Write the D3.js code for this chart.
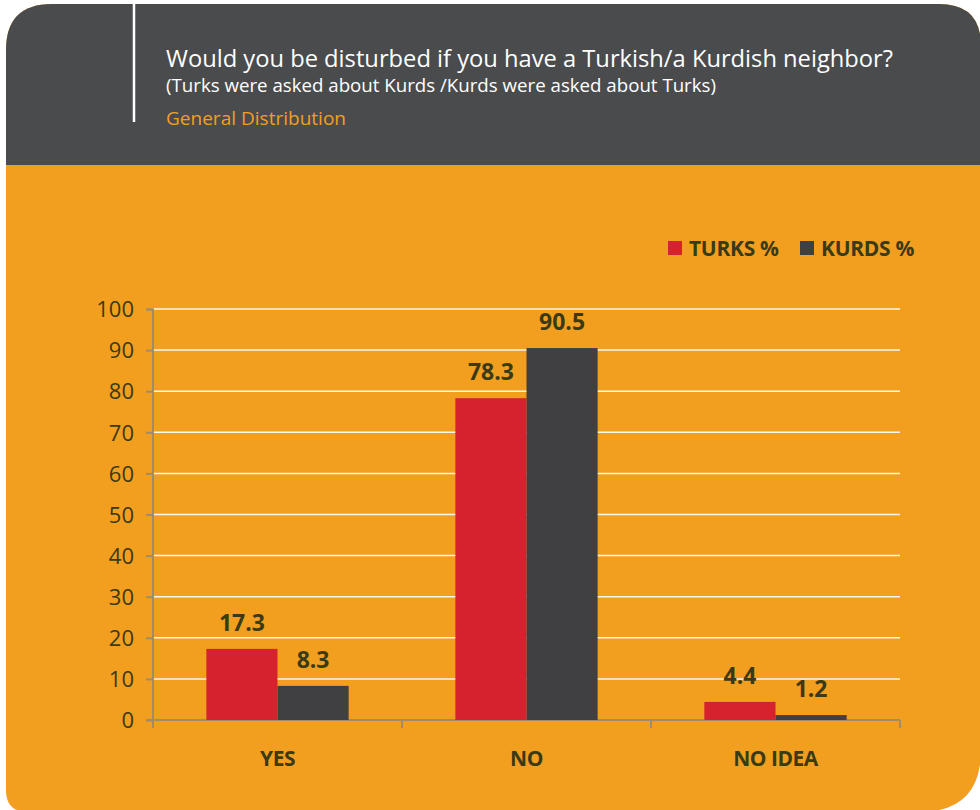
<!DOCTYPE html>
<html><head><meta charset="utf-8">
<script src="https://cdn.jsdelivr.net/npm/d3@7"></script>
<style>body{margin:0;background:#fff}svg{display:block}</style>
</head><body>
<script>
const categories = ["YES", "NO", "NO IDEA"];
const seriesNames = ["TURKS %", "KURDS %"];
const turks = [17.3, 78.3, 4.4];
const kurds = [8.3, 90.5, 1.2];
const yTicks = [0,10,20,30,40,50,60,70,80,90,100];

const W = 980, H = 810;
const orange = "#f29f1f", dark = "#4a4b4d", red = "#d5222e", gray = "#404042", txt = "#3a3a16";
const font = "'Open Sans', 'Noto Sans', sans-serif";

const svg = d3.select("body").append("svg").attr("width", W).attr("height", H);

// card shape
const x0 = 6, x1 = 981, y0 = 4, y1 = 812, rTL = 46, rTR = 42, rBR = 62, rBL = 22;
const cardPath = `M${x0},${y0+rTL} Q${x0},${y0} ${x0+rTL},${y0} L${x1-rTR},${y0} Q${x1},${y0} ${x1},${y0+rTR} L${x1},${y1-rBR} Q${x1},${y1} ${x1-rBR},${y1} L${x0+rBL},${y1} Q${x0},${y1} ${x0},${y1-rBL} Z`;
svg.append("clipPath").attr("id","card").append("path").attr("d", cardPath);
const card = svg.append("g").attr("clip-path","url(#card)");
card.append("rect").attr("x",0).attr("y",0).attr("width",W).attr("height",H).attr("fill",orange);
card.append("rect").attr("x",0).attr("y",0).attr("width",W).attr("height",165).attr("fill",dark);
card.append("line").attr("x1",134).attr("x2",134).attr("y1",0).attr("y2",122).attr("stroke","#fff").attr("stroke-width",2.5);

svg.append("text").attr("x",166).attr("y",67).attr("fill","#fff").attr("font-family",font).attr("font-size",24)
  .attr("textLength",727).attr("lengthAdjust","spacingAndGlyphs")
  .text("Would you be disturbed if you have a Turkish/a Kurdish neighbor?");
svg.append("text").attr("x",166).attr("y",92).attr("fill","#fff").attr("font-family",font).attr("font-size",18)
  .attr("textLength",550).attr("lengthAdjust","spacingAndGlyphs")
  .text("(Turks were asked about Kurds /Kurds were asked about Turks)");
svg.append("text").attr("x",166).attr("y",125).attr("fill",orange).attr("font-family",font).attr("font-size",18)
  .attr("textLength",180).attr("lengthAdjust","spacingAndGlyphs")
  .text("General Distribution");

// scales
const x = d3.scaleBand().domain(categories).range([153, 900]).paddingInner(0).paddingOuter(0);
const xs = d3.scaleBand().domain(seriesNames).range([0, x.bandwidth()]).paddingInner(0).paddingOuter(0.75);
const y = d3.scaleLinear().domain([0, 100]).range([720, 309]);

// gridlines
svg.append("g").selectAll("line").data(yTicks.filter(d=>d>0)).join("line")
  .attr("x1",153).attr("x2",900).attr("y1",d=>y(d)).attr("y2",d=>y(d))
  .attr("stroke","#fff").attr("stroke-opacity",0.9).attr("stroke-width",1.5);

// y axis
const yAxis = svg.append("g").attr("transform","translate(153,0)")
  .call(d3.axisLeft(y).tickValues(yTicks).tickSize(7).tickPadding(12));
yAxis.select(".domain").attr("stroke","#a08c6c").attr("stroke-width",2).attr("d","M-7,309.5H0V728");
yAxis.selectAll(".tick line").attr("stroke","#a08c6c").attr("stroke-width",2);
yAxis.selectAll(".tick text").attr("fill",txt).attr("font-family",font).attr("font-size",22).attr("dy","0.35em");

// x axis
const xAxis = svg.append("g").attr("transform","translate(0,720)");
xAxis.append("line").attr("x1",146).attr("x2",900).attr("y1",0).attr("y2",0).attr("stroke","#a08c6c").attr("stroke-width",2);
xAxis.selectAll("line.t").data(categories).join("line").attr("class","t")
  .attr("x1",d=>x(d)+x.bandwidth()).attr("x2",d=>x(d)+x.bandwidth()).attr("y1",0).attr("y2",8)
  .attr("stroke","#a08c6c").attr("stroke-width",2);
xAxis.selectAll("text").data(categories).join("text")
  .attr("x",d=>x(d)+x.bandwidth()/2).attr("y",46).attr("text-anchor","middle")
  .attr("fill",txt).attr("font-family",font).attr("font-weight",700).attr("font-size",21).attr("letter-spacing",-0.5)
  .text(d=>d);

// bars
const data = [];
categories.forEach((c,i)=>{
  data.push({c, s:seriesNames[0], v:turks[i], col:red});
  data.push({c, s:seriesNames[1], v:kurds[i], col:gray});
});
svg.append("g").selectAll("rect").data(data).join("rect")
  .attr("x",d=>x(d.c)+xs(d.s)).attr("width",xs.bandwidth())
  .attr("y",d=>y(d.v)).attr("height",d=>y(0)-y(d.v)).attr("fill",d=>d.col);
svg.append("g").selectAll("text").data(data).join("text")
  .attr("x",d=>x(d.c)+xs(d.s)+xs.bandwidth()/2).attr("y",d=>y(d.v)-18)
  .attr("text-anchor","middle").attr("fill",txt).attr("font-family",font).attr("font-weight",700).attr("font-size",23)
  .text(d=>d.v.toFixed(1));

// legend
const legend = svg.append("g");
const lx = [668, 800];
seriesNames.forEach((s,i)=>{
  legend.append("rect").attr("x",lx[i]).attr("y",241).attr("width",14).attr("height",14).attr("fill",[red,gray][i]);
  legend.append("text").attr("x",lx[i]+21).attr("y",256).attr("fill",txt).attr("font-family",font)
    .attr("font-weight",700).attr("font-size",21).attr("letter-spacing",-0.3).text(s);
});
</script>
</body></html>
